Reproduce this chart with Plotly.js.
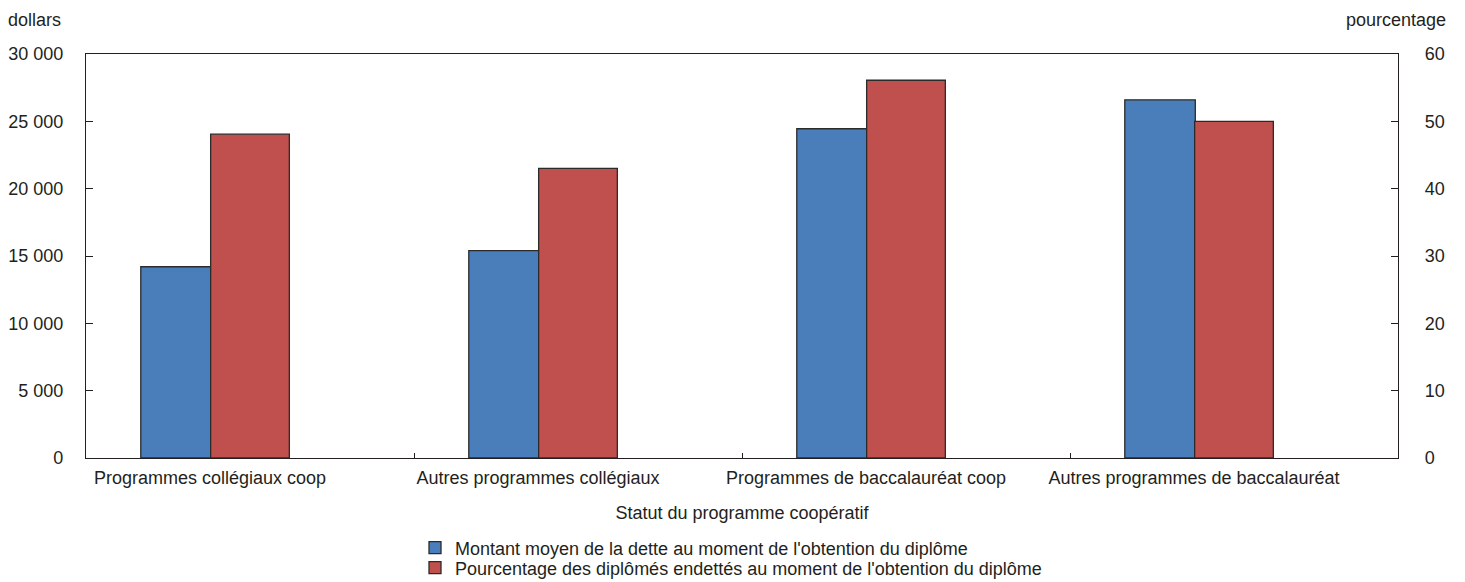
<!DOCTYPE html>
<html><head><meta charset="utf-8">
<script src="https://cdn.plot.ly/plotly-3.0.1.min.js"></script>
<style>html,body{margin:0;padding:0;background:#fff}#c{width:1465px;height:582px}</style>
</head><body><div id="c"></div>
<script>
const categories = ["Programmes collégiaux coop", "Autres programmes collégiaux", "Programmes de baccalauréat coop", "Autres programmes de baccalauréat"];
const debtDollars = [14200, 15400, 24450, 26600];
const pctIndebted = [48.1, 43.0, 56.1, 50.0];
const seriesNames = ["Montant moyen de la dette au moment de l'obtention du diplôme", "Pourcentage des diplômés endettés au moment de l'obtention du diplôme"];
const leftTicks = [0, 5000, 10000, 15000, 20000, 25000, 30000];
const leftTickText = ["0", "5 000", "10 000", "15 000", "20 000", "25 000", "30 000"];
const rightTicks = [0, 10, 20, 30, 40, 50, 60];

const FONT = "'Liberation Sans', Arial, sans-serif";
const TXT = "#231f20";
const f = {family:FONT, size:18, color:TXT};

const traces = [
  {type:'bar', x:categories, y:debtDollars, name:seriesNames[0], yaxis:'y', legend:'legend',
   width:0.215, offset:-0.333,
   marker:{color:'#4a7ebb', line:{color:'#2b2b2b', width:1.3}}},
  {type:'bar', x:categories, y:pctIndebted, name:seriesNames[1], yaxis:'y2', legend:'legend2',
   width:0.24, offset:-0.12,
   marker:{color:'#c0504d', line:{color:'#2b2b2b', width:1.3}}}
];

const legBase = {orientation:'v', xanchor:'left', yanchor:'middle', font:f, bgcolor:'rgba(0,0,0,0)', itemwidth:30};

const layout = {
  width:1465, height:582,
  margin:{l:86, r:67, t:54, b:124, autoexpand:false},
  paper_bgcolor:'#fff', plot_bgcolor:'#fff',
  font:f,
  barmode:'overlay',
  showlegend:true,
  legend:Object.assign({}, legBase, {x:(415-86)/1312, y:(458-548)/404}),
  legend2:Object.assign({}, legBase, {x:(415-86)/1312, y:(458-568)/404}),
  xaxis:{type:'category', automargin:false, showline:true, linecolor:TXT, linewidth:1.2, mirror:true,
         ticks:'inside', tickson:'boundaries', ticklen:5, tickcolor:TXT, ticklabelstandoff:3,
         ticklabelshift:-40,
         showgrid:false, zeroline:false, tickfont:f,
         title:{text:'Statut du programme coopératif', font:f, standoff:19}},
  yaxis:{range:[0,30000], automargin:false, tickvals:leftTicks, ticktext:leftTickText, showline:true,
         linecolor:TXT, linewidth:1.2, ticks:'inside', ticklen:7, tickcolor:TXT,
         showgrid:false, zeroline:false, tickfont:f, ticklabelstandoff:18},
  yaxis2:{range:[0,60], automargin:false, tickvals:rightTicks, overlaying:'y', side:'right', showline:true,
          linecolor:TXT, linewidth:1.2, ticks:'inside', ticklen:7, tickcolor:TXT,
          showgrid:false, zeroline:false, tickfont:f, ticklabelstandoff:22},
  annotations:[
    {text:'dollars', xref:'paper', yref:'paper', x:0, y:1, xanchor:'left', yanchor:'middle',
     xshift:-80, yshift:34, showarrow:false, font:f},
    {text:'pourcentage', xref:'paper', yref:'paper', x:1, y:1, xanchor:'right', yanchor:'middle',
     xshift:50, yshift:34, showarrow:false, font:f}
  ]
};

Plotly.newPlot('c', traces, layout, {displayModeBar:false, staticPlot:true});
</script></body></html>
